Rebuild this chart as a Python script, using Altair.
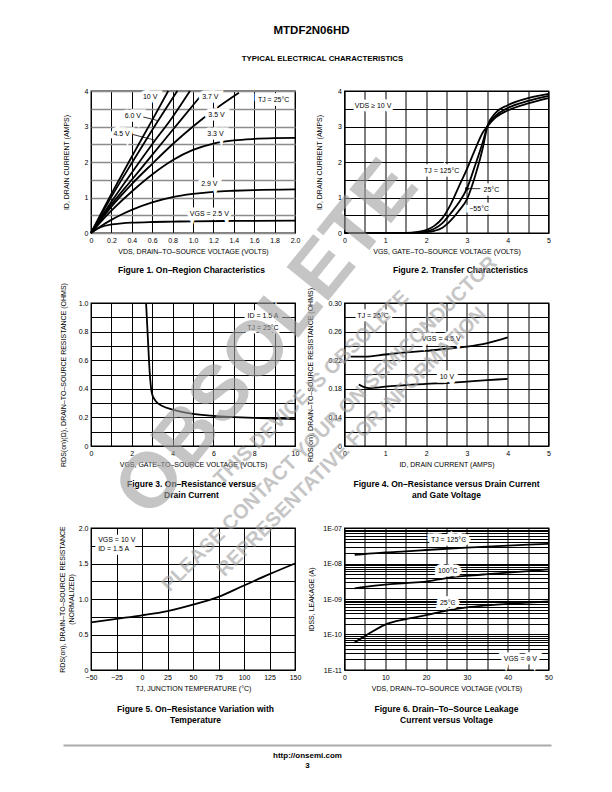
import altair as alt
import pandas as pd

FONT = "Liberation Sans Narrow, Liberation Sans, Arial, sans-serif"
FONTB = "Liberation Sans, Arial, sans-serif"

# ---------------- data ----------------
# Figure 1: On-region characteristics (I_D vs V_DS)
f1_x_10v = [0, 0.1, 0.2, 0.4, 0.6, 0.757]
f1_y_10v = [0, 0.56, 1.1, 2.15, 3.18, 4.0]
f1_x_6v = [0, 0.1, 0.2, 0.4, 0.6, 0.846]
f1_y_6v = [0, 0.52, 1.02, 1.97, 2.9, 4.0]
f1_x_45v = [0, 0.1, 0.2, 0.4, 0.6, 0.8, 0.97]
f1_y_45v = [0, 0.45, 0.88, 1.7, 2.5, 3.27, 4.0]
f1_x_37v = [0, 0.1, 0.2, 0.4, 0.6, 0.8, 1.0, 1.1]
f1_y_37v = [0, 0.42, 0.8, 1.5, 2.2, 2.9, 3.6, 3.95]
f1_x_35v = [0, 0.1, 0.2, 0.4, 0.6, 0.8, 1.0, 1.2, 1.45]
f1_y_35v = [0, 0.38, 0.74, 1.38, 1.95, 2.5, 3.0, 3.45, 3.95]
f1_x_33v = [0, 0.1, 0.2, 0.4, 0.6, 0.8, 1.0, 1.2, 1.4, 1.6, 1.8, 2.0]
f1_y_33v = [0, 0.33, 0.63, 1.17, 1.65, 2.05, 2.34, 2.52, 2.61, 2.65, 2.67, 2.68]
f1_x_29v = [0, 0.1, 0.2, 0.3, 0.4, 0.6, 0.8, 1.0, 1.2, 1.4, 1.6, 2.0]
f1_y_29v = [0, 0.2, 0.37, 0.52, 0.65, 0.86, 1.01, 1.1, 1.16, 1.19, 1.21, 1.23]
f1_x_25v = [0, 0.05, 0.1, 0.2, 0.3, 0.4, 0.6, 0.8, 1.0, 1.4, 2.0]
f1_y_25v = [0, 0.1, 0.17, 0.24, 0.27, 0.29, 0.31, 0.32, 0.33, 0.34, 0.35]
f1_labels = ["10 V", "6.0 V", "4.5 V", "3.7 V", "3.5 V", "3.3 V", "2.9 V", "VGS = 2.5 V", "TJ = 25°C"]
f1_lab_x = [0.58, 0.41, 0.30, 1.17, 1.23, 1.22, 1.16, 1.16, 1.79]
f1_lab_y = [3.82, 3.29, 2.80, 3.83, 3.32, 2.80, 1.38, 0.53, 3.76]
f1_lead_x = [0.51, 0.39]
f1_lead_x2 = [0.65, 0.62]
f1_lead_y = [3.27, 2.79]
f1_lead_y2 = [3.17, 2.62]

# Figure 2: Transfer characteristics (I_D vs V_GS)
f2_x = [0, 1.5, 1.8, 2.0, 2.2, 2.4, 2.6, 2.8, 3.0, 3.2, 3.4, 3.5, 3.7, 4.0, 4.5, 5.0]
f2_y_125 = [0, 0, 0.03, 0.08, 0.2, 0.42, 0.8, 1.3, 1.8, 2.35, 2.85, 3.0, 3.25, 3.45, 3.65, 3.8]
f2_y_25 = [0, 0, 0.01, 0.04, 0.12, 0.28, 0.55, 0.85, 1.25, 1.9, 2.6, 3.0, 3.3, 3.52, 3.72, 3.86]
f2_y_m55 = [0, 0, 0, 0.02, 0.06, 0.15, 0.35, 0.62, 0.95, 1.6, 2.45, 3.0, 3.38, 3.6, 3.8, 3.92]
f2_labels = ["VDS ≥ 10 V", "TJ = 125°C", "25°C", "−55°C"]
f2_lab_x = [0.70, 2.38, 3.6, 3.3]
f2_lab_y = [3.58, 1.75, 1.22, 0.67]
f2_dot_x = [3.0]
f2_dot_y = [1.25]

# Figure 3: On-resistance vs gate voltage
f3_x = [2.7, 2.75, 2.8, 2.85, 2.9, 2.95, 3.0, 3.2, 3.5, 4, 4.5, 5, 6, 7, 8, 9, 10]
f3_y = [1.0, 0.86, 0.72, 0.58, 0.47, 0.4, 0.36, 0.31, 0.28, 0.255, 0.237, 0.225, 0.21, 0.202, 0.196, 0.192, 0.188]
f3_labels = ["ID = 1.5 A", "TJ = 25°C"]
f3_lab_x = [8.43, 8.43]
f3_lab_y = [0.907, 0.826]

# Figure 4: On-resistance vs drain current
f4_x_45v = [0.15, 0.5, 1.0, 1.5, 2.0, 2.5, 3.0, 3.5, 4.0]
f4_y_45v = [0.225, 0.225, 0.228, 0.231, 0.233, 0.236, 0.239, 0.244, 0.252]
f4_x_10v = [0.35, 0.5, 0.6, 1.0, 1.5, 2.0, 2.5, 3.0, 3.5, 4.0]
f4_y_10v = [0.186, 0.182, 0.181, 0.183, 0.185, 0.187, 0.188, 0.19, 0.192, 0.194]
f4_labels = ["TJ = 25°C", "VGS = 4.5 V", "10 V"]
f4_lab_x = [0.70, 2.37, 2.51]
f4_lab_y = [0.2814, 0.249, 0.1963]

# Figure 5: On-resistance vs temperature
f5_x = [-50, -25, 0, 25, 50, 75, 100, 125, 150]
f5_y = [0.67, 0.72, 0.77, 0.83, 0.92, 1.03, 1.19, 1.35, 1.5]
f5_labels = ["VGS = 10 V", "ID = 1.5 A"]
f5_lab_x = [-43, -43]
f5_lab_y = [1.826, 1.70]

# Figure 6: Drain-to-source leakage
f6_x = [2.5, 5, 10, 15, 20, 25, 30, 35, 40, 45, 50]
f6_y_125 = [1.76e-8, 1.85e-8, 2.05e-8, 2.2e-8, 2.4e-8, 2.6e-8, 2.8e-8, 3.0e-8, 3.2e-8, 3.4e-8, 3.6e-8]
f6_y_100 = [2.0e-9, 2.2e-9, 2.55e-9, 2.8e-9, 3.1e-9, 3.9e-9, 4.5e-9, 5.0e-9, 5.5e-9, 6.1e-9, 6.8e-9]
f6_y_25 = [6e-11, 9e-11, 1.9e-10, 2.7e-10, 3.5e-10, 4.7e-10, 5.8e-10, 6.6e-10, 7.3e-10, 7.9e-10, 8.5e-10]
f6_labels = ["TJ = 125°C", "100°C", "25°C", "VGS = 0 V"]
f6_lab_x = [25.5, 25.3, 25.3, 43.1]
f6_lab_y = [4.5e-8, 6.3e-9, 7.7e-10, 2.1e-11]

# ---------------- layout (page pixels) ----------------
LX, RX, PW = 89.5, 343.0, 204
ROW1, ROW2, ROW3 = 90.0, 302.0, 527.0
H1, H2, H3 = 142, 143, 142
GAP1 = ROW2 - (ROW1 + H1)
GAP2 = ROW3 - (ROW2 + H2)
COLSP = RX - LX - PW


def long_df(*series):
    rows = []
    for name, xs, ys in series:
        for a, b in zip(xs, ys):
            rows.append({"s": name, "x": a, "y": b})
    return pd.DataFrame(rows)


def text_df(texts, xs, ys):
    return pd.DataFrame({"t": texts, "x": xs, "y": ys})


def mk_axis(values, expr, title, gcolor="black", gwidth=1.0, tpad=4):
    return alt.Axis(values=values, labelExpr=expr, title=title, grid=True, gridColor=gcolor,
                    gridWidth=gwidth, gridOpacity=1, ticks=False, domain=False,
                    labelFont=FONT, labelFontSize=7, labelColor="black", labelPadding=3,
                    labelFlush=False, labelOverlap=False,
                    titleFont=FONT, titleFontSize=7, titleFontWeight="normal",
                    titleColor="black", titlePadding=tpad)


def page_text(text, px, py, ox, oy, size, bold=True, font=FONTB, color="black",
              angle=None, opacity=1.0, align="center"):
    kw = dict(font=font, fontSize=size, fontWeight="bold" if bold else "normal",
              align=align, baseline="middle", color=color, opacity=opacity)
    if angle is not None:
        kw["angle"] = angle
    return alt.Chart(pd.DataFrame({"t": [text]})).mark_text(**kw).encode(
        x=alt.value(px - ox), y=alt.value(py - oy), text="t:N")


def panel(w, h, X, Y, curves, labels, align="center", rules=None, dots=None, extras=()):
    layers = [alt.Chart(curves).mark_line(color="black", strokeWidth=1.8, interpolate="monotone")
              .encode(x=X, y=Y, detail="s:N")]
    if rules is not None:
        layers.append(alt.Chart(rules).mark_rule(color="black", strokeWidth=0.8)
                      .encode(x=X, y=Y, x2="x2:Q", y2="y2:Q"))
    if dots is not None:
        layers.append(alt.Chart(dots).mark_point(filled=True, size=14, color="black", opacity=1)
                      .encode(x=X, y=Y))
    base = alt.Chart(labels).encode(x=X, y=Y, text="t:N")
    layers.append(base.mark_text(font=FONT, fontSize=7, align=align, baseline="middle",
                                 fill="white", stroke="white", strokeWidth=7, strokeJoin="miter"))
    layers.append(base.mark_text(font=FONT, fontSize=7, align=align, baseline="middle", color="black"))
    layers += list(extras)
    return alt.layer(*layers).properties(width=w, height=h)


def lin(domain):
    return alt.Scale(domain=domain, nice=False, zero=False)


INT_EXPR = "datum.value % 1 == 0 ? format(datum.value, 'd') : ''"
half_vals = [i * 0.5 for i in range(9)]
half5_vals = [i * 0.5 for i in range(11)]

# ---- Figure 1 ----
X1 = alt.X("x:Q", scale=lin([0, 2]), axis=mk_axis(
    [round(i * 0.2, 1) for i in range(11)],
    "datum.value == 0 ? '0' : format(datum.value, '.1f')",
    "VDS, DRAIN–TO–SOURCE VOLTAGE (VOLTS)"))
Y1 = alt.Y("y:Q", scale=lin([0, 4]), axis=mk_axis(half_vals, INT_EXPR, "ID, DRAIN CURRENT (AMPS)",
                                                 gcolor="#8c8c8c", gwidth=1.5, tpad=15))
c1 = long_df(("10", f1_x_10v, f1_y_10v), ("6", f1_x_6v, f1_y_6v), ("4.5", f1_x_45v, f1_y_45v),
             ("3.7", f1_x_37v, f1_y_37v), ("3.5", f1_x_35v, f1_y_35v), ("3.3", f1_x_33v, f1_y_33v),
             ("2.9", f1_x_29v, f1_y_29v), ("2.5", f1_x_25v, f1_y_25v))
r1 = pd.DataFrame({"x": f1_lead_x, "x2": f1_lead_x2, "y": f1_lead_y, "y2": f1_lead_y2})
ex1 = [
    alt.Chart(pd.DataFrame({"t": [0]})).mark_rule(color="white", strokeWidth=1).encode(
        x=alt.value(8 - LX), x2=alt.value(9 - LX), y=alt.value(8.5 - ROW1)),
    page_text("MTDF2N06HD", 310, 30, LX, ROW1, 11.5),
    page_text("TYPICAL ELECTRICAL CHARACTERISTICS", 321, 58, LX, ROW1, 7.8),
    page_text("Figure 1. On–Region Characteristics", 190, 269, LX, ROW1, 8.5),
    alt.Chart(pd.DataFrame({"t": [0]})).mark_rule(color="#aaaaaa", strokeWidth=2).encode(
        x=alt.value(62 - LX), x2=alt.value(550 - LX), y=alt.value(744.5 - ROW1)),
    page_text("http://onsemi.com", 306, 755, LX, ROW1, 8),
    page_text("3", 306, 764.5, LX, ROW1, 8),
]
p1 = panel(PW, H1, X1, Y1, c1, text_df(f1_labels, f1_lab_x, f1_lab_y), rules=r1, extras=ex1)

# ---- Figure 2 ----
X2 = alt.X("x:Q", scale=lin([0, 5]), axis=mk_axis(half5_vals, INT_EXPR,
                                                 "VGS, GATE–TO–SOURCE VOLTAGE (VOLTS)"))
Y2 = alt.Y("y:Q", scale=lin([0, 4]), axis=mk_axis(half_vals, INT_EXPR, "ID, DRAIN CURRENT (AMPS)", tpad=15))
c2 = long_df(("125", f2_x, f2_y_125), ("25", f2_x, f2_y_25), ("-55", f2_x, f2_y_m55))
r2 = pd.DataFrame({"x": [3.0], "x2": [3.35], "y": [1.25], "y2": [1.25]})
d2 = pd.DataFrame({"x": f2_dot_x, "y": f2_dot_y})
ex2 = [page_text("Figure 2. Transfer Characteristics", 459, 269, RX, ROW1, 8.5)]
p2 = panel(PW, H1, X2, Y2, c2, text_df(f2_labels, f2_lab_x, f2_lab_y), rules=r2, dots=d2, extras=ex2)

# ---- Figure 3 ----
X3 = alt.X("x:Q", scale=lin([0, 10]), axis=mk_axis(list(range(11)),
           "datum.value % 2 == 0 ? format(datum.value, 'd') : ''",
           "VGS, GATE–TO–SOURCE VOLTAGE (VOLTS)"))
Y3 = alt.Y("y:Q", scale=lin([0, 1]), axis=mk_axis(
    [round(i * 0.1, 1) for i in range(11)],
    "round(datum.value * 10) % 2 == 0 ? (datum.value == 0 ? '0' : format(datum.value, '.1f')) : ''",
    "RDS(on)(Ω), DRAIN–TO–SOURCE RESISTANCE (OHMS)", tpad=12))
c3 = long_df(("r", f3_x, f3_y))
ex3 = [page_text("Figure 3. On–Resistance versus", 190, 483, LX, ROW2, 8.5),
       page_text("Drain Current", 190, 494, LX, ROW2, 8.5)]
p3 = panel(PW, H2, X3, Y3, c3, text_df(f3_labels, f3_lab_x, f3_lab_y), extras=ex3)

# ---- Figure 4 ----
X4 = alt.X("x:Q", scale=lin([0, 5]), axis=mk_axis(half5_vals, INT_EXPR, "ID, DRAIN CURRENT (AMPS)"))
Y4 = alt.Y("y:Q", scale=lin([0.1, 0.3]), axis=mk_axis(
    [round(0.1 + 0.02 * i, 2) for i in range(11)],
    "datum.value < 0.11 ? '0' : (round(datum.value * 100) % 4 == 2 ? format(datum.value, '.2f') : '')",
    "RDS(on), DRAIN–TO–SOURCE RESISTANCE (OHMS)", tpad=14))
c4 = long_df(("4.5", f4_x_45v, f4_y_45v), ("10", f4_x_10v, f4_y_10v))
ex4 = [page_text("Figure 4. On–Resistance versus Drain Current", 445, 483, RX, ROW2, 8.5),
       page_text("and Gate Voltage", 445, 494, RX, ROW2, 8.5)]
p4 = panel(PW, H2, X4, Y4, c4, text_df(f4_labels, f4_lab_x, f4_lab_y), extras=ex4)

# ---- Figure 5 ----
X5 = alt.X("x:Q", scale=lin([-50, 150]), axis=mk_axis(list(range(-50, 151, 25)),
           "format(datum.value, 'd')", "TJ, JUNCTION TEMPERATURE (°C)"))
Y5 = alt.Y("y:Q", scale=lin([0, 2]), axis=mk_axis(
    [i * 0.25 for i in range(9)],
    "round(datum.value * 4) % 2 == 0 ? (datum.value == 0 ? '0' : format(datum.value, '.1f')) : ''",
    ["RDS(on), DRAIN–TO–SOURCE RESISTANCE", "(NORMALIZED)"]))
c5 = long_df(("r", f5_x, f5_y))
ex5 = [page_text("Figure 5. On–Resistance Variation with", 194, 708, LX, ROW3, 8.5),
       page_text("Temperature", 194, 719, LX, ROW3, 8.5)]
p5 = panel(PW, H3, X5, Y5, c5, text_df(f5_labels, f5_lab_x, f5_lab_y), align="left", extras=ex5)

# ---- Figure 6 ----
log_vals = [m * 10.0 ** e for e in range(-11, -7) for m in range(1, 10)] + [1e-7]
X6 = alt.X("x:Q", scale=lin([0, 50]), axis=mk_axis(list(range(0, 51, 5)),
           "datum.value % 10 == 0 ? format(datum.value, 'd') : ''",
           "VDS, DRAIN–TO–SOURCE VOLTAGE (VOLTS)"))
Y6 = alt.Y("y:Q", scale=alt.Scale(type="log", domain=[1e-11, 1e-7], nice=False), axis=mk_axis(
    log_vals,
    "abs(log(datum.value) / LN10 - round(log(datum.value) / LN10)) < 0.01 ? '1E-' + pad(toString(-round(log(datum.value) / LN10)), 2, '0', 'left') : ''",
    "IDSS, LEAKAGE (A)", tpad=8))
c6 = long_df(("125", f6_x, f6_y_125), ("100", f6_x, f6_y_100), ("25", f6_x, f6_y_25))
WM = "#a0a0a0"
ex6 = [page_text("Figure 6. Drain–To–Source Leakage", 445, 708, RX, ROW3, 8.5),
       page_text("Current versus Voltage", 445, 719, RX, ROW3, 8.5),
       page_text("OBSOLETE", 266, 338, RX, ROW3, 78, color=WM, angle=309, opacity=0.6),
       page_text("THIS DEVICE IS OBSOLETE", 310, 387, RX, ROW3, 20, color=WM, angle=315, opacity=0.6),
       page_text("PLEASE CONTACT YOUR ON SEMICONDUCTOR", 328, 423, RX, ROW3, 20, color=WM, angle=315, opacity=0.6),
       page_text("REPRESENTATIVE FOR INFORMATION", 350, 441, RX, ROW3, 20, color=WM, angle=315, opacity=0.6)]
p6 = panel(PW, H3, X6, Y6, c6, text_df(f6_labels, f6_lab_x, f6_lab_y), extras=ex6)


def spacer(h):
    return alt.Chart(pd.DataFrame({"v": [0]})).mark_point(opacity=0).encode(
        x=alt.value(0), y=alt.value(0)).properties(
        width=PW, height=h, view=alt.ViewBackground(strokeOpacity=0))


chart = alt.concat(p1, p2, spacer(GAP1), spacer(GAP1), p3, p4, spacer(GAP2), spacer(GAP2), p5, p6,
                   columns=2, spacing={"row": 0, "column": COLSP}, bounds="flush", align="each"
                   ).properties(padding=0).configure_view(stroke="black", strokeWidth=1.3)

chart.save("out.html", embed_options={"renderer": "svg", "actions": False})
